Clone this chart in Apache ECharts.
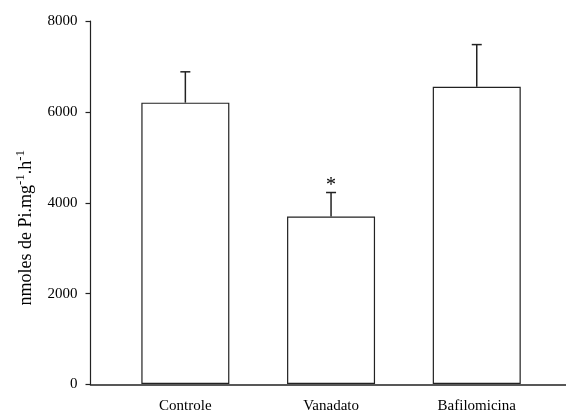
<!DOCTYPE html>
<html>
<head>
<meta charset="utf-8">
<style>
  html, body { margin: 0; padding: 0; background: #fff; }
  #chart { width: 566px; height: 414px; }
</style>
<script src="https://cdn.jsdelivr.net/npm/echarts@6/dist/echarts.min.js"></script>
</head>
<body>
<div id="chart"></div>
<script>
// Treatment groups and measured activity (mean and standard error)
var categories = ['Controle', 'Vanadato', 'Bafilomicina'];
var means = [6200, 3690, 6550];
var errors = [680, 530, 930];
// Significance marks drawn above the error bars
var marks = ['', '*', ''];
// Y axis ticks
var yMin = 0, yMax = 8000, yStep = 2000;

var FONT = 'Liberation Serif';
var INK = '#222';

var chart = echarts.init(document.getElementById('chart'), null, { renderer: 'canvas' });

var errorData = categories.map(function (c, i) { return [i, means[i], errors[i]]; });

var option = {
  animation: false,
  backgroundColor: '#fff',
  grid: [
    // plotting area of the bars
    { left: 112.5, right: 16.4, top: 21, height: 363.5 },
    // frame holding the visible axes
    { left: 90.5, right: 0, top: 21, height: 363.5 }
  ],
  xAxis: [
    {
      type: 'category', gridIndex: 0, data: categories,
      axisLine: { show: false }, axisTick: { show: false },
      axisLabel: { color: '#000', fontFamily: FONT, fontSize: 15, margin: 15 }
    },
    {
      type: 'value', gridIndex: 1, min: 0, max: 1,
      axisLine: { show: true, lineStyle: { color: INK, width: 1.5 } },
      axisTick: { show: false }, axisLabel: { show: false }, splitLine: { show: false }
    }
  ],
  yAxis: [
    {
      type: 'value', gridIndex: 0, min: yMin, max: yMax, interval: yStep,
      show: false, splitLine: { show: false }
    },
    {
      type: 'value', gridIndex: 1, min: yMin, max: yMax, interval: yStep,
      axisLine: { show: true, lineStyle: { color: INK, width: 1.2 } },
      axisTick: { show: true, length: 5, lineStyle: { color: INK, width: 1.2 } },
      axisLabel: {
        color: '#000', fontFamily: FONT, fontSize: 15, margin: 13,
        formatter: function (v) { return String(v); }
      },
      splitLine: { show: false },
      name: '{b|nmoles de Pi.mg}{s|-1}{b|.h}{s|-1}',
      nameLocation: 'middle',
      nameGap: 53,
      nameRotate: 90,
      nameTextStyle: {
        color: '#000', fontFamily: FONT, fontSize: 18, padding: [0, 0, 0, -50],
        rich: {
          b: { fontFamily: FONT, fontSize: 18, color: '#000' },
          s: { fontFamily: FONT, fontSize: 13, color: '#000', padding: [0, 0, 10, 0] }
        }
      }
    }
  ],
  series: [
    {
      type: 'bar', xAxisIndex: 0, yAxisIndex: 0,
      data: means, barWidth: 88,
      itemStyle: { color: '#fff', borderColor: INK, borderWidth: 1.2 },
      z: 2
    },
    {
      type: 'custom', xAxisIndex: 0, yAxisIndex: 0,
      data: errorData,
      z: 3,
      renderItem: function (params, api) {
        var i = api.value(0);
        var base = api.coord([i, api.value(1)]);
        var top = api.coord([i, api.value(1) + api.value(2)]);
        var cap = 5;
        var style = { stroke: INK, lineWidth: 1.5 };
        var children = [
          { type: 'line', shape: { x1: base[0], y1: base[1], x2: top[0], y2: top[1] }, style: style },
          { type: 'line', shape: { x1: top[0] - cap, y1: top[1], x2: top[0] + cap, y2: top[1] }, style: style }
        ];
        var m = marks[i];
        if (m) {
          children.push({
            type: 'text',
            style: {
              text: m, x: top[0], y: top[1] - 17,
              align: 'center', verticalAlign: 'top',
              font: '20px "' + FONT + '"', fill: '#000'
            }
          });
        }
        return { type: 'group', children: children };
      }
    }
  ]
};

chart.setOption(option);
</script>
</body>
</html>
